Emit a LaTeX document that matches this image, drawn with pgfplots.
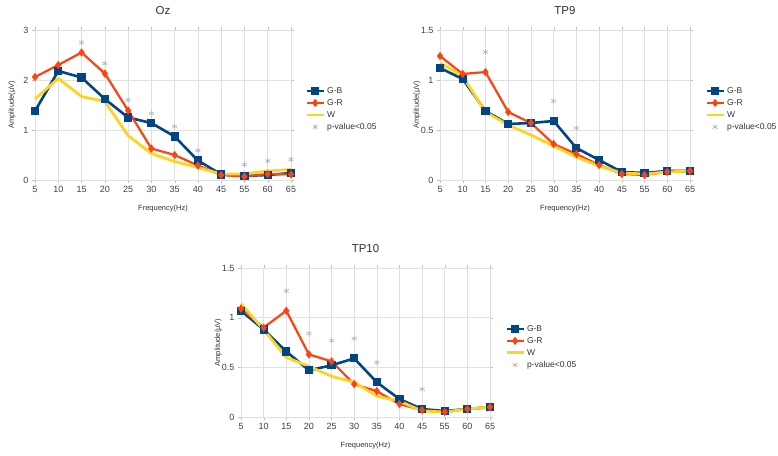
\documentclass[border=0pt]{standalone}
\usepackage{pgfplots}
\pgfplotsset{compat=1.18}
\usepackage{fontspec}
\setmainfont{Liberation Sans}
\definecolor{cGB}{HTML}{004586}
\definecolor{cGR}{HTML}{FF420E}
\definecolor{cW}{HTML}{FFD320}
\definecolor{cP}{HTML}{B3B3B3}
\pgfplotsset{
  chart/.style={
    scale only axis,
    xmin=0, xmax=11,
    xtick={0,...,11},
    xticklabels={5,10,15,20,25,30,35,40,45,55,60,65},
    ymin=0,
    grid=major,
    major grid style={color=black!12, line width=0.5pt},
    axis line style={draw=black!12},
    tick align=outside,
    major tick length=3pt,
    tick style={color=black!25},
    /pgf/number format/assume math mode=true,
    ticklabel style={font=\fontsize{9}{10}\selectfont, text=black!75},
    xlabel={Frequency(Hz)},
    ylabel={Amplitude(µV)},
    label style={font=\fontsize{7.5}{8}\selectfont, text=black!80},
    title style={font=\fontsize{11.5}{12}\selectfont, text=black!80, anchor=center},
    legend style={draw=none, fill=none, anchor=west, font=\fontsize{8.5}{9}\selectfont, text=black!80, row sep=0.6pt, inner sep=0pt},
    legend cell align=left,
    clip=false,
  },
  gb/.style={color=cGB, line width=2.6pt, mark=square*, mark size=2.8pt, mark options={solid}},
  gr/.style={color=cGR, line width=2.2pt, mark=diamond*, mark size=2.4pt},
  ww/.style={color=cW, line width=2.8pt, mark=none},
  pv/.style={color=cP, only marks, mark=asterisk, mark size=3pt, line width=0.6pt},
}
\begin{document}
\begin{tikzpicture}[x=1pt,y=1pt]
\path[use as bounding box] (0,0) rectangle (778,455);
% Oz
\begin{axis}[chart, at={(35pt,275pt)}, anchor=south west, width=256pt, height=150pt,
  ymax=3, ytick={0,1,2,3},
  title={Oz}, title style={at={(axis description cs:0.5,1.093)}},
  xlabel style={at={(axis description cs:0.5,-0.193)}, anchor=center},
  ylabel style={at={(axis description cs:-0.09,0.5)}, anchor=center},
  legend style={at={(axis description cs:1.055,0.473)}}]
\addplot[gb] coordinates {(0,1.38)(1,2.18)(2,2.05)(3,1.62)(4,1.25)(5,1.14)(6,0.87)(7,0.39)(8,0.11)(9,0.08)(10,0.10)(11,0.14)};
\addplot[gr] coordinates {(0,2.06)(1,2.30)(2,2.55)(3,2.13)(4,1.39)(5,0.63)(6,0.50)(7,0.29)(8,0.10)(9,0.07)(10,0.12)(11,0.11)};
\addplot[ww] coordinates {(0,1.62)(1,2.03)(2,1.67)(3,1.57)(4,0.89)(5,0.53)(6,0.37)(7,0.25)(8,0.12)(9,0.12)(10,0.18)(11,0.21)};
\addplot[pv] coordinates {(2,2.75)(3,2.33)(4,1.60)(5,1.33)(6,1.07)(7,0.59)(9,0.31)(10,0.38)(11,0.41)};
\legend{G-B,G-R,W,p-value<0.05}
\end{axis}
% TP9
\begin{axis}[chart, at={(440pt,275pt)}, anchor=south west, width=250pt, height=150pt,
  ymax=1.5, ytick={0,0.5,1,1.5},
  title={TP9}, title style={at={(axis description cs:0.5,1.093)}},
  xlabel style={at={(axis description cs:0.5,-0.193)}, anchor=center},
  ylabel style={at={(axis description cs:-0.092,0.5)}, anchor=center},
  legend style={at={(axis description cs:1.06,0.473)}}]
\addplot[gb] coordinates {(0,1.12)(1,1.01)(2,0.69)(3,0.56)(4,0.57)(5,0.59)(6,0.32)(7,0.20)(8,0.08)(9,0.07)(10,0.09)(11,0.09)};
\addplot[gr] coordinates {(0,1.24)(1,1.06)(2,1.08)(3,0.68)(4,0.57)(5,0.36)(6,0.26)(7,0.15)(8,0.06)(9,0.05)(10,0.08)(11,0.09)};
\addplot[ww] coordinates {(0,1.17)(1,1.04)(2,0.68)(3,0.55)(4,0.45)(5,0.34)(6,0.23)(7,0.14)(8,0.07)(9,0.06)(10,0.08)(11,0.09)};
\addplot[pv] coordinates {(2,1.28)(5,0.79)(6,0.52)};
\legend{G-B,G-R,W,p-value<0.05}
\end{axis}
% TP10
\begin{axis}[chart, at={(241pt,38pt)}, anchor=south west, width=249pt, height=149pt,
  ymax=1.5, ytick={0,0.5,1,1.5},
  title={TP10}, title style={at={(axis description cs:0.5,1.087)}},
  xlabel style={at={(axis description cs:0.5,-0.195)}, anchor=center},
  ylabel style={at={(axis description cs:-0.092,0.5)}, anchor=center},
  legend style={at={(axis description cs:1.06,0.47)}}]
\addplot[gb] coordinates {(0,1.07)(1,0.88)(2,0.66)(3,0.47)(4,0.52)(5,0.59)(6,0.35)(7,0.18)(8,0.08)(9,0.06)(10,0.08)(11,0.10)};
\addplot[gr] coordinates {(0,1.09)(1,0.90)(2,1.07)(3,0.63)(4,0.56)(5,0.33)(6,0.26)(7,0.13)(8,0.07)(9,0.05)(10,0.08)(11,0.10)};
\addplot[ww] coordinates {(0,1.14)(1,0.88)(2,0.60)(3,0.51)(4,0.41)(5,0.35)(6,0.21)(7,0.16)(8,0.06)(9,0.05)(10,0.08)(11,0.10)};
\addplot[pv] coordinates {(2,1.27)(3,0.84)(4,0.77)(5,0.79)(6,0.55)(8,0.28)};
\legend{G-B,G-R,W,p-value<0.05}
\end{axis}
\end{tikzpicture}
\end{document}
